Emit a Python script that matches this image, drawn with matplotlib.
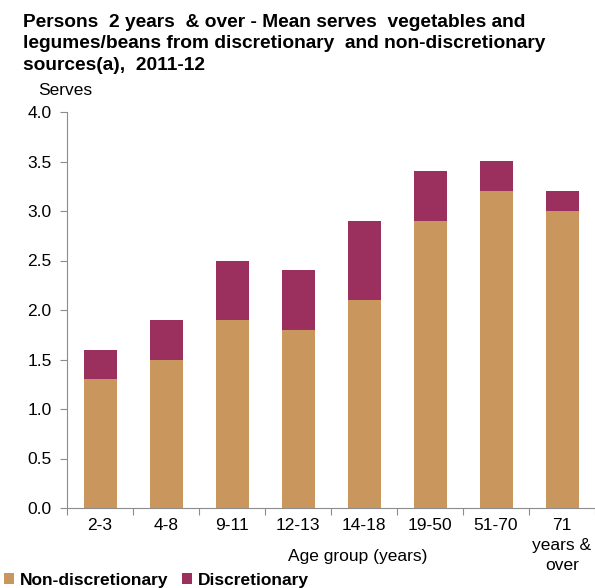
import numpy as np
import matplotlib.pyplot as plt

plt.rcParams['font.family'] = ['Liberation Sans', 'DejaVu Sans']

# data
groups = ["2-3", "4-8", "9-11", "12-13", "14-18", "19-50", "51-70", "71\nyears &\nover"]
non_disc = [1.3, 1.5, 1.9, 1.8, 2.1, 2.9, 3.2, 3.0]
disc = [0.3, 0.4, 0.6, 0.6, 0.8, 0.5, 0.3, 0.2]

c_non = "#C9975E"
c_disc = "#9B2F5E"
grey = "#8C8C8C"

fig = plt.figure(figsize=(5.95, 5.88), dpi=100)
ax = fig.add_axes([67 / 595, 1 - 508 / 588, 528 / 595, 396 / 588])

x = np.arange(len(groups))
b1 = ax.bar(x, non_disc, width=0.5, color=c_non, label="Non-discretionary")
b2 = ax.bar(x, disc, width=0.5, bottom=non_disc, color=c_disc, label="Discretionary")

ax.set_xlim(-0.5, len(groups) - 0.5)
ax.set_ylim(0, 4.0)
yt = np.arange(0, 4.01, 0.5)
ax.set_yticks(yt)
ax.set_yticklabels([f"{v:.1f}" for v in yt], fontsize=12.5)

# ticks on category boundaries, labels on centres
ax.set_xticks(np.arange(-0.5, len(groups), 1.0))
ax.set_xticklabels([])
ax.set_xticks(x, minor=True)
ax.set_xticklabels(groups, minor=True, fontsize=12.5, va="top", linespacing=1.42)
ax.tick_params(axis="x", which="minor", length=0, pad=7)
ax.tick_params(axis="x", which="major", length=5, color=grey, direction="out")
ax.tick_params(axis="y", length=5, color=grey, direction="out", pad=6)

for s in ["top", "right"]:
    ax.spines[s].set_visible(False)
for s in ["left", "bottom"]:
    ax.spines[s].set_color(grey)

fig.text(358 / 595, 1 - 557 / 588, "Age group (years)", fontsize=12.5, ha="center", va="center")

fig.text(23 / 595, 0.976,
         "Persons  2 years  & over - Mean serves  vegetables and\n"
         "legumes/beans from discretionary  and non-discretionary\n"
         "sources(a),  2011-12",
         fontsize=13.8, fontweight="bold", va="top", ha="left", linespacing=1.33)
fig.text(38 / 595, 1 - 90 / 588, "Serves", fontsize=12.5, va="center")

fig.legend(handles=[b1, b2], loc="center left", bbox_to_anchor=(-0.005, 1 - 580 / 588),
           ncol=2, frameon=False, handlelength=0.6, handleheight=0.6,
           handletextpad=0.3, columnspacing=0.8, borderaxespad=0,
           prop={"weight": "bold", "size": 12.5})

plt.savefig("out.png", dpi=100)
